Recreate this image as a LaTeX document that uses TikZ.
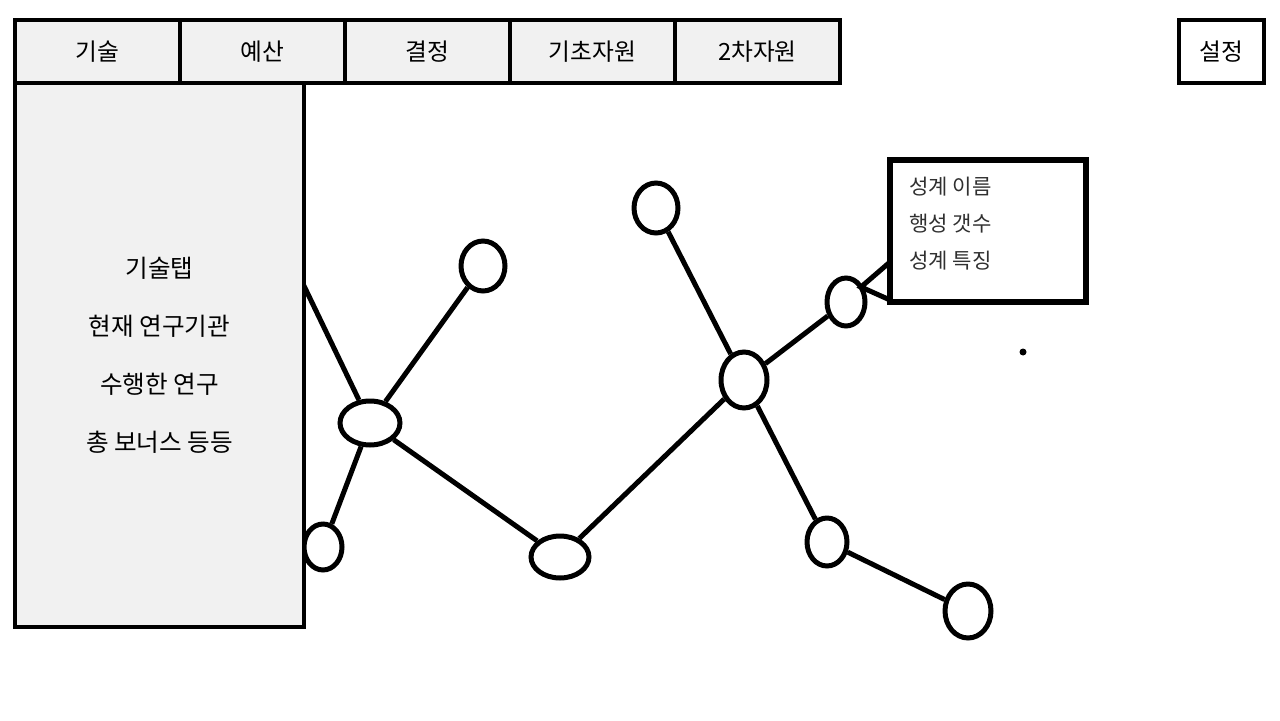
\documentclass[tikz,border=0pt]{standalone}
\usepackage{fontspec}
\setmainfont{Noto Sans CJK KR}
\usetikzlibrary{shapes.geometric,positioning}
\definecolor{panelgray}{HTML}{F1F1F1}
\definecolor{tipgray}{HTML}{303030}
\tikzset{
  tabcell/.style={draw,line width=0.08cm,fill=panelgray,minimum width=3.3cm,minimum height=1.26cm,inner sep=0pt,outer sep=0pt,font=\fontsize{13.5}{16}\selectfont},
  sys/.style 2 args={ellipse,draw,line width=0.1cm,fill=white,inner sep=0pt,minimum width=#1*0.04cm,minimum height=#2*0.04cm},
  link/.style={line width=0.1cm}
}
\begin{document}
\begin{tikzpicture}[x=0.02cm,y=-0.02cm]
\useasboundingbox (0,0) rectangle (1280,720);
% graph of star systems
\node[sys={22}{25}] (a) at (483,266) {};
\node[sys={30}{22}] (b) at (370,423) {};
\node[sys={19}{23}] (c) at (323,547) {};
\node[sys={29}{21}] (d) at (560,557) {};
\node[sys={22}{25}] (e) at (656,208) {};
\node[sys={23}{28}] (f) at (744,380) {};
\node[sys={19}{24}] (g) at (846,302) {};
\node[sys={20}{24}] (h) at (827,542) {};
\node[sys={23}{27}] (i) at (968,611) {};
\coordinate (off) at (280,236);
\draw[link] (off) -- (b);
\draw[link] (b) -- (a);
\draw[link] (b) -- (c);
\draw[link] (b) -- (d);
\draw[link] (d) -- (f);
\draw[link] (f) -- (e);
\draw[link] (f) -- (g);
\draw[link] (f) -- (h);
\draw[link] (h) -- (i);
\fill (1023,352) circle (3.5);
% info box
\node[draw,line width=0.11cm,fill=white,minimum width=3.92cm,minimum height=2.84cm,inner sep=0pt] (info) at (988,231) {};
\node[anchor=west,align=left,text=tipgray,inner sep=0pt,font=\fontsize{12}{21}\selectfont] (infotxt) at (909,224) {성계 이름\\행성 갯수\\성계 특징};
\coordinate (tipv) at (861,287);
\coordinate (tipa) at (890,262);
\coordinate (tipb) at (890,300);
\draw[link] (tipa) -- (tipv) -- (tipb);
% side panel
\node[draw,line width=0.08cm,fill=panelgray,minimum width=5.78cm,minimum height=10.88cm,inner sep=0pt,align=center,font=\fontsize{14}{33}\selectfont] (panel) at (159.5,355) {기술탭\\현재 연구기관\\수행한 연구\\총 보너스 등등};
% tabs
\node[tabcell] (t1) at (97.5,51.5) {기술};
\node[tabcell,right=0pt of t1] (t2) {예산};
\node[tabcell,right=0pt of t2] (t3) {결정};
\node[tabcell,right=0pt of t3] (t4) {기초자원};
\node[tabcell,right=0pt of t4] (t5) {2차자원};
\node[draw,line width=0.08cm,minimum width=1.7cm,minimum height=1.26cm,inner sep=0pt,font=\fontsize{13.5}{16}\selectfont] (set) at (1221.5,51.5) {설정};
\end{tikzpicture}
\end{document}
